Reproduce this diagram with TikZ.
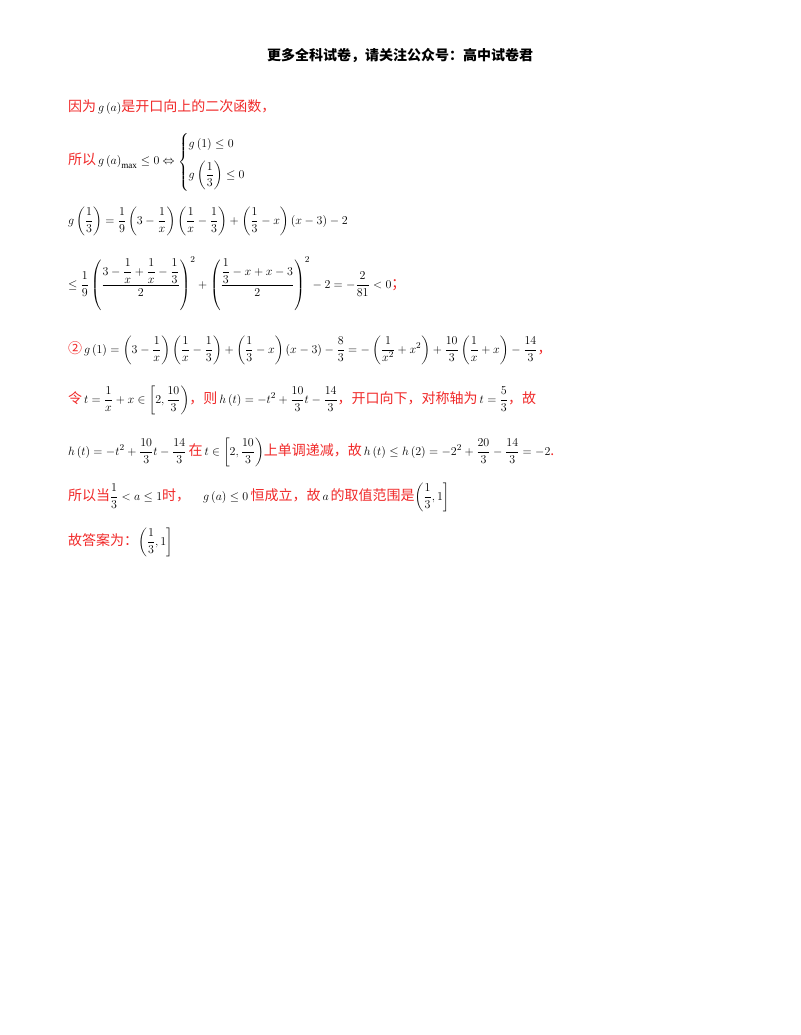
\documentclass[tikz,border=0pt]{standalone}
\usepackage{amsmath}
\usepackage{fontspec}
\setmainfont{Liberation Serif}
\newfontfamily\cjk{Noto Sans CJK SC}
\definecolor{rd}{RGB}{240,40,40}
\newcommand{\zh}[1]{{\color{rd}\fontsize{14}{17}\selectfont\cjk #1}}
\begin{document}
\begin{tikzpicture}[x=1pt,y=-1pt,every node/.style={inner sep=0pt,outer sep=0pt,anchor=base west,font=\fontsize{13}{16}\selectfont}]
\useasboundingbox (0,0) rectangle (800,1035);
\node[anchor=base] (title) at (400,61) {\fontsize{14}{17}\selectfont\cjk\bfseries 更多全科试卷，请关注公众号：高中试卷君};
\node (l1) at (68,112) {\zh{因为}$\,g\left(a\right)$\zh{是开口向上的二次函数，}};
\node (l2) at (68,165) {\zh{所以}$\,g\left(a\right)_{\max}\le 0\Leftrightarrow\begin{cases}g\left(1\right)\le 0\\[8pt] g\left(\dfrac13\right)\le 0\end{cases}$};
\node (l3) at (68,224) {$g\left(\dfrac13\right)=\dfrac19\left(3-\dfrac1x\right)\left(\dfrac1x-\dfrac13\right)+\left(\dfrac13-x\right)\left(x-3\right)-2$};
\node (l4) at (68,288) {$\le\dfrac19\left(\dfrac{3-\dfrac1x+\dfrac1x-\dfrac13}{2}\right)^{2}+\left(\dfrac{\dfrac13-x+x-3}{2}\right)^{2}-2=-\dfrac{2}{81}<0$\zh{；}};
\node (l5) at (68,353) {\zh{②}$\,g\left(1\right)=\left(3-\dfrac1x\right)\left(\dfrac1x-\dfrac13\right)+\left(\dfrac13-x\right)\left(x-3\right)-\dfrac83=-\left(\dfrac1{x^2}+x^2\right)+\dfrac{10}3\left(\dfrac1x+x\right)-\dfrac{14}3$\zh{，}};
\node (l6) at (68,403) {\zh{令}$\,t=\dfrac1x+x\in\left[2,\dfrac{10}3\right)$\zh{，则}$\,h\left(t\right)=-t^2+\dfrac{10}3t-\dfrac{14}3$\zh{，开口向下，对称轴为}$\,t=\dfrac53$\zh{，故}};
\node (l7) at (68,455) {$h\left(t\right)=-t^2+\dfrac{10}3t-\dfrac{14}3$\,\zh{在}$\,t\in\left[2,\dfrac{10}3\right)$\zh{上单调递减，故}$\,h\left(t\right)\le h\left(2\right)=-2^2+\dfrac{20}3-\dfrac{14}3=-2$\zh{.}};
\node (l8) at (68,500) {\zh{所以当}$\dfrac13<a\le1$\zh{时，}\quad$g\left(a\right)\le0$\,\zh{恒成立，故}$\,a\,$\zh{的取值范围是}$\left(\dfrac13,1\right]$};
\node (l9) at (68,545) {\zh{故答案为：}$\left(\dfrac13,1\right]$};
\end{tikzpicture}
\end{document}
